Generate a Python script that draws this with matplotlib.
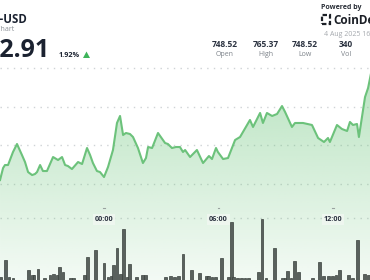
import numpy as np
import matplotlib
matplotlib.use('Agg')
import matplotlib.pyplot as plt
from matplotlib.patches import Rectangle, Polygon

# price trace, hours relative to 4 Aug 00:00
price_hours = [-5.45, -5.29, -5.19, -5.03, -4.77, -4.56, -4.30, -4.14, -3.98, -3.77,
               -3.62, -3.51, -3.35, -3.20, -2.99, -2.67, -2.41, -2.20, -2.04, -1.89,
               -1.68, -1.36, -1.15, -0.89, -0.73, -0.58, -0.37, -0.21, 0.00, 0.21,
               0.47, 0.68, 0.84, 1.00, 1.15, 1.36, 1.52, 1.78, 2.04, 2.20,
               2.31, 2.52, 2.83, 3.20, 3.35, 3.56, 3.77, 3.98, 4.14, 4.25,
               4.51, 4.87, 5.19, 5.50, 5.66, 5.87, 5.97, 6.24, 6.50, 6.87,
               7.13, 7.65, 7.81, 8.18, 8.33, 8.54, 8.81, 9.07, 9.33, 9.49,
               9.85, 10.01, 10.43, 10.90, 11.22, 11.53, 11.74, 11.84, 12.21, 12.47,
               12.74, 12.89, 13.05, 13.26, 13.36, 13.68, 13.84, 14.05]
price_values = [750.45, 752.01, 752.40, 752.40, 754.09, 755.13, 753.70, 752.79, 751.49, 751.10,
                751.23, 751.49, 752.40, 751.62, 751.62, 753.44, 753.05, 753.44, 752.40, 752.27,
                751.88, 752.79, 752.53, 754.61, 753.70, 752.66, 751.62, 751.49, 750.84, 752.14,
                754.35, 757.86, 758.77, 756.30, 756.56, 756.43, 756.04, 754.61, 752.66, 753.31,
                754.74, 754.61, 756.56, 755.26, 755.13, 754.61, 754.74, 754.74, 754.09, 754.35,
                753.44, 754.35, 752.66, 753.57, 753.18, 754.61, 754.09, 753.18, 753.31, 755.65,
                756.04, 758.25, 757.34, 759.16, 757.86, 759.16, 758.77, 759.03, 760.06, 759.29,
                757.34, 757.86, 757.86, 757.60, 755.91, 755.39, 755.91, 755.39, 757.60, 757.08,
                756.82, 757.99, 757.60, 757.73, 756.04, 761.23, 762.40, 765.00]

volume_hours = [-5.40, -5.14, -4.98, -4.77, -3.98, -3.77, -3.67, -3.46, -3.14, -2.83,
                -2.67, -2.46, -2.31, -2.15, -1.78, -1.62, -1.00, -0.84, -0.47, 0.00,
                0.21, 0.37, 0.52, 0.68, 0.84, 1.00, 1.21, 1.36, 1.68, 2.04,
                2.15, 3.20, 3.51, 3.67, 3.88, 4.14, 4.61, 4.98, 5.35, 5.50,
                5.66, 5.82, 6.18, 6.50, 6.66, 6.81, 7.02, 7.23, 7.39, 7.55,
                8.12, 8.28, 8.49, 8.96, 9.33, 9.49, 9.64, 9.80, 9.96, 10.17,
                10.95, 11.27, 11.48, 11.79, 12.00, 12.16, 12.32, 12.79, 13.00, 13.31,
                13.63, 13.84]
volume_values = [12, 46, 12, 10, 26, 16, 16, 28, 10, 16,
                 18, 16, 32, 22, 10, 10, 16, 52, 66, 40,
                 12, 14, 36, 70, 18, 108, 12, 38, 12, 16,
                 16, 12, 14, 12, 14, 58, 26, 20, 14, 14,
                 12, 12, 50, 12, 122, 12, 10, 10, 10, 10,
                 22, 128, 10, 70, 10, 10, 24, 10, 44, 22,
                 10, 42, 14, 14, 14, 16, 26, 16, 10, 86,
                 18, 16]

grid_prices = [750, 755, 760, 765]
tick_hours = [0, 6, 12]
tick_labels = ['00:00', '06:00', '12:00']
stat_values = ['748.52', '765.37', '748.52', '340']
stat_labels = ['Open', 'High', 'Low', 'Vol']

W, H = 370, 280
X0, X1 = -5.451, 13.941
Y0, Y1 = 737.47, 773.83
GREEN = np.array([108, 197, 124]) / 255.0
DARK = '#1b2230'


def fx(px):
    return px / W


def fy(py):
    return 1 - py / H


fig = plt.figure(figsize=(W / 100, H / 100), dpi=100)
fig.patch.set_facecolor('white')
ax = fig.add_axes([0, 0, 1, 1])
ax.set_axis_off()

# dotted grid
for p in grid_prices:
    ax.axhline(p, color='#cfd3d6', lw=1.0, ls=(0, (1, 3.8)), zorder=0)
ax.axhline(745.52, color='#cfd3d6', lw=1.0, ls=(0, (1, 3.8)), zorder=0)

# gradient area under the price line
poly_xy = [(price_hours[0], Y0)] + list(zip(price_hours, price_values)) + [(price_hours[-1], Y0)]
clip = Polygon(poly_xy, closed=True, facecolor='none', edgecolor='none', transform=ax.transData)
ax.add_patch(clip)
grad = np.zeros((256, 1, 4))
grad[:, 0, :3] = GREEN
grad[:, 0, 3] = np.linspace(0.08, 0.48, 256)
img = ax.imshow(grad, extent=[X0, X1, Y0, max(price_values)], origin='lower',
                aspect='auto', zorder=1, interpolation='bilinear')
img.set_clip_path(clip)

ax.plot(price_hours, price_values, color='#6cc27b', lw=1.5, zorder=3, solid_joinstyle='round')

# time axis labels
for h, lab in zip(tick_hours, tick_labels):
    ax.text(h, 745.35, lab, ha='center', va='center', fontsize=5.2, fontweight='bold',
            color='#2b3240', family='Open Sans', zorder=4,
            bbox=dict(boxstyle='square,pad=0.25', fc='#eef6ef', ec='none'))
    ax.plot([h - 0.05, h + 0.05], [746.8, 746.8], color='#9aa3a0', lw=0.8, zorder=4)

ax.set_xlim(X0, X1)
ax.set_ylim(Y0, Y1)

# volume bars
vax = fig.add_axes([0, 0, 1, 1])
vax.set_axis_off()
vax.patch.set_visible(False)
vax.bar(volume_hours, volume_values, width=0.155, color='#59615d', edgecolor='#3a413d',
        lw=0.5, zorder=2)
vax.set_xlim(X0, X1)
vax.set_ylim(6, 566)

# header, left
fig.text(fx(27), fy(23), 'BNB-USD', ha='right', va='baseline', fontsize=8.3,
         fontweight='bold', color=DARK, family='Open Sans')
fig.text(fx(14), fy(31), 'BNB Price Chart', ha='right', va='baseline', fontsize=5,
         color='#8a8f96', family='Open Sans')
fig.text(fx(50), fy(57), '762.91', ha='right', va='baseline', fontsize=18,
         fontweight='bold', color=DARK, family='Open Sans')
fig.text(fx(59), fy(57), '1.92%', ha='left', va='baseline', fontsize=5.2,
         fontweight='bold', color=DARK, family='Open Sans')
fig.patches.append(Polygon([(fx(83), fy(58)), (fx(90), fy(58)), (fx(86.5), fy(51.5))],
                           closed=True, transform=fig.transFigure, fc='#3db45a', ec='none'))

# header, right
fig.text(fx(321), fy(9), 'Powered by', ha='left', va='baseline', fontsize=5,
         fontweight='bold', color='#2a2f38', family='Open Sans')
fig.patches.append(Rectangle((fx(322), fy(24)), fx(8), 9 / H, transform=fig.transFigure,
                             fc='none', ec='#1b1f26', lw=1.6, ls=(0, (2, 1))))
fig.text(fx(333), fy(24), 'CoinDesk', ha='left', va='baseline', fontsize=8.5,
         fontweight='bold', color='#1b1f26', family='Open Sans')
fig.text(fx(324), fy(36.5), '4 Aug 2025 16:00 UTC', ha='left', va='baseline', fontsize=5,
         color='#a5a9ae', family='Open Sans')

stat_x = [225, 266, 305, 346]
for x, v, lab in zip(stat_x, stat_values, stat_labels):
    fig.text(fx(x), fy(47), v, ha='center', va='baseline', fontsize=6,
             fontweight='bold', color='#2b3240', family='Open Sans')
    fig.text(fx(x), fy(56), lab, ha='center', va='baseline', fontsize=5,
             color='#7d838a', family='Open Sans')

fig.savefig('out.png', dpi=100)
